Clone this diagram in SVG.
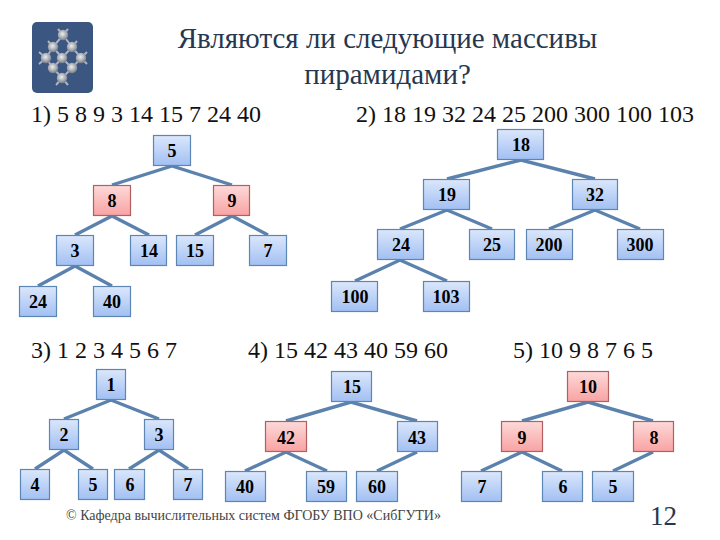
<svg xmlns="http://www.w3.org/2000/svg" width="720" height="540" viewBox="0 0 720 540">
<style>
.t{font-family:"Liberation Serif","Times New Roman",serif;fill:#1f2a3a}
.h{font-size:29px;text-anchor:middle;fill:#26384f}
.l{font-size:24px;fill:#111}
.b rect{fill:url(#blue);stroke:#5c86b4;stroke-width:1.2}
.r rect{fill:url(#red);stroke:#b45f5f;stroke-width:1.2}
.n text{font-family:"Liberation Serif","Times New Roman",serif;font-weight:bold;font-size:18px;text-anchor:middle;fill:#000}
#connectors path{fill:none;stroke:#5b82ad;stroke-width:3.4}
.m{fill:url(#ball)}
.s{stroke:#aeb4bd;stroke-width:2;fill:none}
</style>
<defs>
<linearGradient id="blue" x1="0" y1="0" x2="0" y2="1"><stop offset="0" stop-color="#dbe7fb"/><stop offset="1" stop-color="#a2c0f3"/></linearGradient>
<linearGradient id="red" x1="0" y1="0" x2="0" y2="1"><stop offset="0" stop-color="#fdd9d9"/><stop offset="1" stop-color="#f8a3a3"/></linearGradient>
<radialGradient id="ball" cx="0.45" cy="0.4" r="0.65"><stop offset="0" stop-color="#eceef0"/><stop offset="0.6" stop-color="#a4a9b0"/><stop offset="1" stop-color="#6b7480"/></radialGradient>
</defs>
<rect width="720" height="540" fill="#fff"/>

<g id="logo">
<rect x="32" y="22" width="61" height="71" rx="5" fill="#3b5680"/>
<path class="s" d="M63 35 53 47 46 58 53 68 62 78 72 68 81 58 72 47 63 35M53 47 62 58 72 47M53 68 62 58 72 68M63 35 58 29M63 35 68 29M53 47 48 41M72 47 77 41M46 58 39 52M46 58 39 64M81 58 87 52M81 58 87 64M62 78 56 85M62 78 68 85"/>
<circle class="m" cx="63" cy="35" r="5.2"/><circle class="m" cx="53" cy="47" r="5.2"/><circle class="m" cx="72" cy="47" r="5.2"/><circle class="m" cx="46" cy="58" r="5.2"/><circle class="m" cx="62" cy="58" r="5.2"/><circle class="m" cx="81" cy="58" r="5.2"/><circle class="m" cx="53" cy="68" r="5.2"/><circle class="m" cx="72" cy="68" r="5.2"/><circle class="m" cx="62" cy="78" r="5.2"/>
</g>

<text class="t h" x="387.500" y="48">Являются ли следующие массивы</text>
<text class="t h" x="387.500" y="84">пирамидами?</text>
<text class="t l" x="31" y="122">1) 5 8 9 3 14 15 7 24 40</text>
<text class="t l" x="356" y="122">2) 18 19 32 24 25 200 300 100 103</text>
<text class="t l" x="31" y="358">3) 1 2 3 4 5 6 7</text>
<text class="t l" x="248" y="358">4) 15 42 43 40 59 60</text>
<text class="t l" x="513" y="358">5) 10 9 8 7 6 5</text>
<text class="t" x="66" y="520" font-size="14" style="fill:#444">© Кафедра вычислительных систем ФГОБУ ВПО «СибГУТИ»</text>
<text class="t" x="650" y="525" font-size="27" style="fill:#26384f">12</text>

<g id="connectors">
<path d="M112 185 172 166 232 185M75 235 112 216 149 235M195 235 232 216 268 235M38 286 75 266 112 286"/>
<path d="M447 179 521 160 595 179M400 229 447 210 492 229M549 229 595 210 640 229M355 281 400 260 447 281"/>
<path d="M64 419 111 400 159 419M35 469 64 450 93 469M129 469 159 450 188 469"/>
<path d="M286 421 351 402 417 421M245 471 286 452 327 471M377 471 417 452"/>
<path d="M522 421 588 402 653 421M481 471 522 452 562 471M613 471 653 452"/>
</g>

<g id="n1-5" class="n b"><rect x="153.500" y="135.500" width="37" height="30"/><text x="172" y="157">5</text></g>
<g id="n1-8" class="n r"><rect x="93.500" y="185.500" width="37" height="30"/><text x="112" y="207">8</text></g>
<g id="n1-9" class="n r"><rect x="213.500" y="185.500" width="36" height="30"/><text x="232" y="207">9</text></g>
<g id="n1-3" class="n b"><rect x="56.500" y="235.500" width="37" height="30"/><text x="75" y="257">3</text></g>
<g id="n1-14" class="n b"><rect x="130.500" y="235.500" width="36" height="30"/><text x="149" y="257">14</text></g>
<g id="n1-15" class="n b"><rect x="176.500" y="235.500" width="37" height="30"/><text x="195" y="257">15</text></g>
<g id="n1-7" class="n b"><rect x="249.500" y="235.500" width="37" height="30"/><text x="268" y="257">7</text></g>
<g id="n1-24" class="n b"><rect x="19.500" y="286.500" width="37" height="30"/><text x="38" y="308">24</text></g>
<g id="n1-40" class="n b"><rect x="93.500" y="286.500" width="37" height="30"/><text x="112" y="308">40</text></g>

<g id="n2-18" class="n b"><rect x="497.500" y="129.500" width="46" height="30"/><text x="521" y="151">18</text></g>
<g id="n2-19" class="n b"><rect x="423.500" y="179.500" width="46" height="30"/><text x="447" y="201">19</text></g>
<g id="n2-32" class="n b"><rect x="572.500" y="179.500" width="45" height="30"/><text x="595" y="201">32</text></g>
<g id="n2-24" class="n b"><rect x="377.500" y="229.500" width="46" height="30"/><text x="401" y="251">24</text></g>
<g id="n2-25" class="n b"><rect x="469.500" y="229.500" width="45" height="30"/><text x="492" y="251">25</text></g>
<g id="n2-200" class="n b"><rect x="526.500" y="229.500" width="46" height="30"/><text x="549" y="251">200</text></g>
<g id="n2-300" class="n b"><rect x="617.500" y="229.500" width="46" height="30"/><text x="640" y="251">300</text></g>
<g id="n2-100" class="n b"><rect x="331.500" y="281.500" width="46" height="30"/><text x="355" y="303">100</text></g>
<g id="n2-103" class="n b"><rect x="423.500" y="281.500" width="46" height="30"/><text x="446" y="303">103</text></g>

<g id="n3-1" class="n b"><rect x="96.500" y="369.500" width="29" height="30"/><text x="111" y="391">1</text></g>
<g id="n3-2" class="n b"><rect x="49.500" y="419.500" width="29" height="30"/><text x="64" y="441">2</text></g>
<g id="n3-3" class="n b"><rect x="144.500" y="419.500" width="29" height="30"/><text x="159" y="441">3</text></g>
<g id="n3-4" class="n b"><rect x="20.500" y="469.500" width="29" height="30"/><text x="35" y="491">4</text></g>
<g id="n3-5" class="n b"><rect x="78.500" y="469.500" width="29" height="30"/><text x="93" y="491">5</text></g>
<g id="n3-6" class="n b"><rect x="114.500" y="469.500" width="30" height="30"/><text x="130" y="491">6</text></g>
<g id="n3-7" class="n b"><rect x="173.500" y="469.500" width="29" height="30"/><text x="188" y="491">7</text></g>

<g id="n4-15" class="n b"><rect x="331.500" y="371.500" width="40" height="30"/><text x="352" y="393">15</text></g>
<g id="n4-42" class="n r"><rect x="265.500" y="421.500" width="41" height="30"/><text x="286" y="444">42</text></g>
<g id="n4-43" class="n b"><rect x="397.500" y="421.500" width="40" height="30"/><text x="417" y="444">43</text></g>
<g id="n4-40" class="n b"><rect x="225.500" y="471.500" width="40" height="30"/><text x="245" y="493">40</text></g>
<g id="n4-59" class="n b"><rect x="306.500" y="471.500" width="40" height="30"/><text x="326" y="493">59</text></g>
<g id="n4-60" class="n b"><rect x="356.500" y="471.500" width="41" height="30"/><text x="377" y="493">60</text></g>

<g id="n5-10" class="n r"><rect x="567.500" y="371.500" width="41" height="30"/><text x="588" y="393">10</text></g>
<g id="n5-9" class="n r"><rect x="501.500" y="421.500" width="41" height="30"/><text x="522" y="444">9</text></g>
<g id="n5-8" class="n r"><rect x="633.500" y="421.500" width="40" height="30"/><text x="654" y="444">8</text></g>
<g id="n5-7" class="n b"><rect x="461.500" y="471.500" width="40" height="30"/><text x="482" y="493">7</text></g>
<g id="n5-6" class="n b"><rect x="542.500" y="471.500" width="40" height="30"/><text x="563" y="493">6</text></g>
<g id="n5-5" class="n b"><rect x="592.500" y="471.500" width="41" height="30"/><text x="613" y="493">5</text></g>
</svg>
